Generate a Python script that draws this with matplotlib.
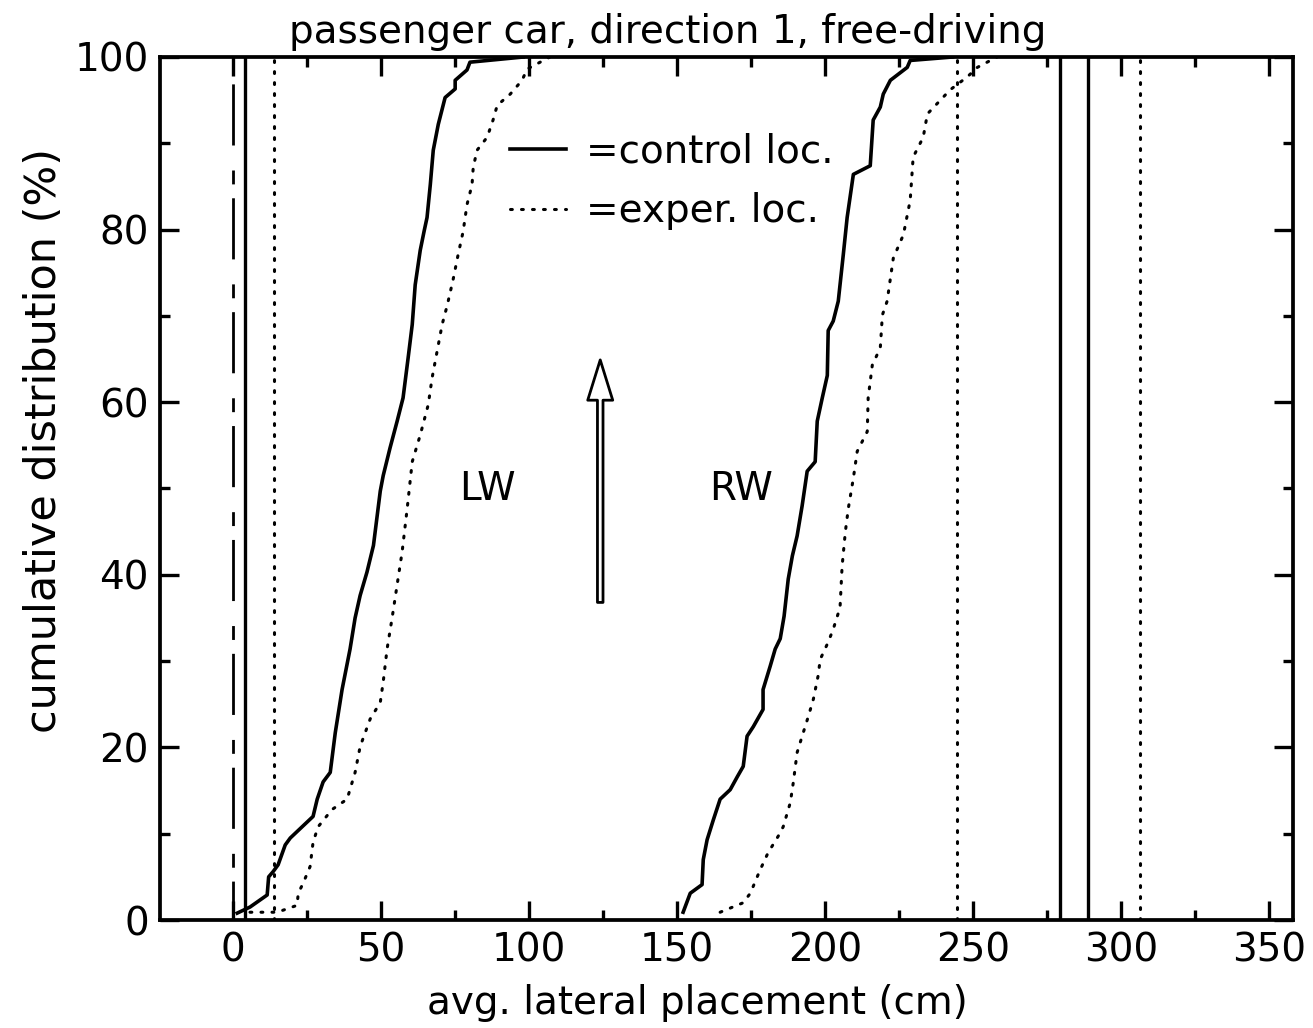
import numpy as np
import matplotlib
matplotlib.use("Agg")
import matplotlib.pyplot as plt
from matplotlib.lines import Line2D
from matplotlib.patches import FancyArrowPatch

# cumulative distributions (cm, %)
lw_ctrl_x = [1.4, 5.7, 11.5, 12, 13.5, 15.2, 17.6, 19.3, 23.3, 27, 28.4, 30.4, 32.8, 34.5, 36.8, 39.5,
             41.2, 42.9, 45.2, 47.4, 49.7, 50.7, 53, 55.4, 57.4, 59.1, 60.5, 61.5, 63.2, 64.5, 65.5,
             66.6, 67.6, 69.3, 71.6, 75, 75, 79, 80, 98]
lw_ctrl_y = [0.8, 1.5, 2.9, 5, 5.6, 6.4, 8.7, 9.5, 10.8, 12, 14, 16, 17.1, 21.7, 26.7, 31.4,
             35, 37.6, 40.3, 43.4, 49.7, 51.5, 54.7, 57.8, 60.5, 65.1, 69, 73.6, 77.6, 79.8, 81.4,
             85.2, 89.2, 92.2, 95.3, 96.3, 97.3, 98.5, 99.4, 100]

lw_exp_x = [5.7, 14.9, 21.6, 22, 23.7, 26, 27, 28.7, 33.4, 38.5, 41.2, 42.9, 46.3, 49.7, 50.7, 52,
            53.7, 57.1, 58.8, 60.5, 63.2, 65.9, 67.2, 68.9, 70.6, 72.3, 74.3, 76, 77.7, 79, 80.7,
            81.1, 82.4, 85.8, 87.8, 89.2, 93.6, 97.6, 99.3, 103.7, 107]
lw_exp_y = [0.9, 0.9, 1.7, 3.1, 4.3, 6.2, 9, 10.8, 12.8, 14, 17.1, 20.1, 23.3, 25.2, 27.6, 31.4,
            35, 42.7, 47.7, 53.1, 56.2, 59.7, 62.8, 65.9, 69, 71.2, 74.2, 77.1, 79.8, 82.9, 85.2,
            87.2, 89.2, 90.7, 92.7, 94.4, 95.7, 97.3, 98.6, 99.4, 100]

rw_ctrl_x = [152, 154.4, 158.4, 158.8, 160.1, 162.2, 164.5, 167.9, 170.3, 172.3, 173.6, 175.7, 179,
             179, 181.4, 183.1, 184.8, 186.1, 187.5, 188.9, 190.5, 192.2, 193.9, 196.6, 197.3, 199,
             200.7, 201, 202.7, 204.4, 206.1, 207.4, 209.5, 215.2, 216.2, 218.6, 219.6, 222, 227.7,
             228.7, 243]
rw_ctrl_y = [0.9, 3.1, 4.1, 7, 9.3, 11.6, 14, 15.1, 16.6, 17.8, 21.3, 22.4, 24.4,
             26.7, 29.4, 31.4, 32.6, 35.2, 39.5, 42.2, 44.5, 48, 52, 53.1, 57.8, 60.5,
             63.1, 68.3, 69.4, 71.7, 77.1, 81.4, 86.4, 87.4, 92.7, 94.2, 95.7, 97.3, 98.8,
             99.6, 100]

rw_exp_x = [164.5, 172.3, 174.7, 178, 180.7, 184.1, 185.8, 188.2, 189.2, 190.5, 192.2, 194.3, 196,
            197.6, 198.3, 201, 202.7, 205, 205.7, 206.8, 207.8, 209.5, 210.8, 214.2, 214.5, 215.9,
            218.6, 219.3, 220.9, 223, 226.4, 228.7, 229.7, 233.1, 234.5, 238.9, 242.2, 248, 251.4, 258]
rw_exp_y = [0.9, 2, 3.1, 5.8, 7.8, 9.7, 10.8, 13.6, 15.9, 19.4, 21.3, 23.6, 25.6,
            28.3, 30.2, 32.2, 33.7, 36.2, 41, 45, 47.7, 51.2, 54.3, 56.6, 60.5, 64.3,
            66.3, 70.1, 71.7, 76.7, 79.4, 83.4, 88.4, 90.7, 93.4, 95, 96.2, 97.7, 98.8, 100]

# lane markings / road edges (cm)
centre_line = 0
ctrl_edges = [4, 279.3, 288.8]
exp_edges = [13.9, 244.5, 306.3]

labels = ["=control loc.", "=exper. loc."]
arrow_x = 124
arrow_y = [36.8, 64.9]

plt.rcParams["font.family"] = "DejaVu Sans"
fs = 28

fig = plt.figure(figsize=(13.13, 10.28), dpi=100)
ax = fig.add_axes([160 / 1313, 1 - 920 / 1028, 1133 / 1313, 863 / 1028])

dot = (0, (0.6, 3.0))
ax.plot(lw_ctrl_x, lw_ctrl_y, color="black", lw=2.6)
ax.plot(rw_ctrl_x, rw_ctrl_y, color="black", lw=2.6)
ax.plot(lw_exp_x, lw_exp_y, color="black", lw=2.2, linestyle=dot, dash_capstyle="round")
ax.plot(rw_exp_x, rw_exp_y, color="black", lw=2.2, linestyle=dot, dash_capstyle="round")

ax.axvline(centre_line, color="black", lw=2.0, linestyle=(8, (22, 5, 5, 9)))
for e in ctrl_edges:
    ax.axvline(e, color="black", lw=2.4)
for e in exp_edges:
    ax.axvline(e, color="black", lw=2.2, linestyle=dot, dash_capstyle="round")

ax.text(85.8, 50, "LW", fontsize=fs, ha="center", va="center")
ax.text(171.6, 50, "RW", fontsize=fs, ha="center", va="center")

arr = FancyArrowPatch((arrow_x, arrow_y[0]), (arrow_x, arrow_y[1]),
                      arrowstyle="simple,head_length=29,head_width=18,tail_width=4",
                      mutation_scale=1, facecolor="white", edgecolor="black", lw=2,
                      shrinkA=0, shrinkB=0)
ax.add_patch(arr)

handles = [Line2D([], [], color="black", lw=2.6),
           Line2D([], [], color="black", lw=2.2, linestyle=dot, dash_capstyle="round")]
ax.legend(handles, labels, loc="upper left", bbox_to_anchor=(0.309, 0.912), frameon=False,
          fontsize=fs, handlelength=1.45, handletextpad=0.5, labelspacing=0.55,
          borderpad=0, borderaxespad=0)

ax.set_xlim(-24.7, 358)
ax.set_ylim(0, 100)
ax.set_xticks(np.arange(0, 351, 50))
ax.set_xticks(np.arange(25, 351, 50), minor=True)
ax.set_yticks(np.arange(0, 101, 20))
ax.set_yticks(np.arange(10, 100, 20), minor=True)
ax.tick_params(which="both", direction="in", top=True, right=True, width=2.4, labelsize=fs)
ax.tick_params(which="major", length=14, pad=8)
ax.tick_params(which="minor", length=7)
for s in ax.spines.values():
    s.set_linewidth(2.7)

ax.set_title("passenger car, direction 1, free-driving", fontsize=fs, pad=10, x=0.448)
ax.set_xlabel("avg. lateral placement (cm)", fontsize=fs)
ax.xaxis.set_label_coords(0.474, -0.074)
ax.set_ylabel("cumulative distribution (%)", fontsize=31)
ax.yaxis.set_label_coords(-0.084, 0.556)

fig.savefig("out.png", dpi=100)
